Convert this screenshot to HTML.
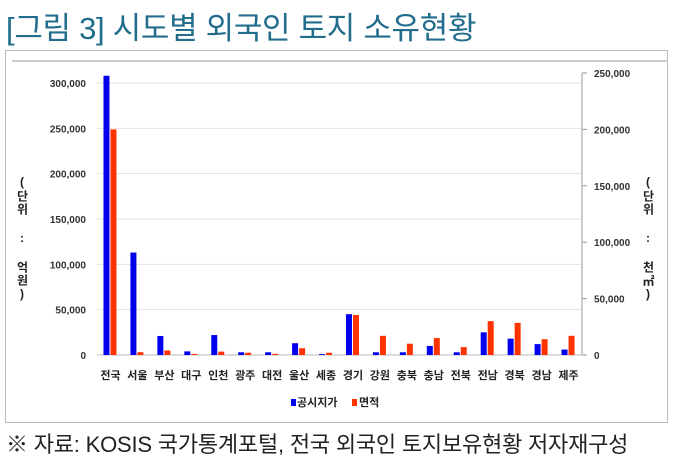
<!DOCTYPE html>
<html><head><meta charset="utf-8"><style>
body{margin:0;width:680px;height:466px;background:#fff;overflow:hidden;font-family:"Liberation Sans","Noto Sans CJK KR",sans-serif}
#title{position:absolute;left:6px;top:3px;font-size:31px;color:#236d8c;letter-spacing:-0.3px;white-space:nowrap}
#foot{position:absolute;left:6px;top:427px;font-size:22px;color:#222;white-space:nowrap;letter-spacing:-0.2px}
#box{position:absolute;left:5px;top:50px;width:663px;height:373px;border:1px solid #bbb;box-sizing:border-box}
svg{position:absolute;left:0;top:0}
.vt{position:absolute;writing-mode:vertical-rl;text-orientation:upright;font-size:12px;font-weight:bold;color:#222;letter-spacing:1px;white-space:nowrap}
</style></head><body>
<div id="title">[그림 3] 시도별 외국인 토지 소유현황</div>
<div id="box"></div>
<svg id="chart" width="680" height="466"></svg>
<div class="vt" style="left:14px;top:175px">(단위 : 억원)</div>
<div class="vt" style="left:640px;top:175px">(단위 : 천㎡)</div>
<div id="foot">※ 자료: KOSIS 국가통계포털, 전국 외국인 토지보유현황 저자재구성</div>
<script>
const categories=["전국","서울","부산","대구","인천","광주","대전","울산","세종","경기","강원","충북","충남","전북","전남","경북","경남","제주"];
const priceValues=[308000,113000,21000,4000,22000,3000,3000,13000,1000,45000,3000,3000,10000,3000,25000,18000,12000,6000];
const areaValues=[200000,2500,4000,1000,3000,2000,1000,6000,2000,35500,17000,10000,15000,7000,30000,28500,14000,17000];
const leftTicks=[0,50000,100000,150000,200000,250000,300000];
const rightTicks=[0,50000,100000,150000,200000,250000];
const svg=document.getElementById('chart');const NS='http://www.w3.org/2000/svg';
const x0=97,x1=582,yB=355;
const yL=v=>yB-v*(272/300000);
const yR=v=>yB-v*(282/250000);
const step=(x1-x0)/categories.length;
function el(t,a,txt){const e=document.createElementNS(NS,t);for(const k in a)e.setAttribute(k,a[k]);if(txt!=null)e.textContent=txt;svg.appendChild(e);return e;}
const fmt=v=>v.toLocaleString('en-US');
let e=el('line',{x1:12,x2:668,y1:61,y2:61,stroke:'#ccc','stroke-width':2});

leftTicks.forEach(t=>{
 if(t>0){const g=el('line',{x1:x0,x2:x1,y1:yL(t),y2:yL(t),stroke:'#e2e2e2'});}
 const l=el('text',{x:86,y:yL(t)+4,'text-anchor':'end','font-size':10,'font-weight':'bold',fill:'#333'},fmt(t));
 
});
rightTicks.forEach(t=>{
 const m=el('line',{x1:x1,x2:x1+5,y1:yR(t),y2:yR(t),stroke:'#999'});
 const l=el('text',{x:594,y:yR(t)+4,'font-size':10,'font-weight':'bold',fill:'#333'},fmt(t));
 
});
e=el('line',{x1:x1,x2:x1,y1:yR(250000),y2:yB,stroke:'#999'});
e=el('line',{x1:x0,x2:x1,y1:yB,y2:yB,stroke:'#bbb'});
categories.forEach((c,i)=>{
 const cx=x0+step*(i+0.5);
 const b=el('rect',{x:cx-7,y:yL(priceValues[i]),width:6,height:yB-yL(priceValues[i]),fill:'#0000ee'});
 
 const r=el('rect',{x:cx,y:yR(areaValues[i]),width:6,height:yB-yR(areaValues[i]),fill:'#ff3300'});
 
 const t=el('text',{x:cx,y:379,'text-anchor':'middle','font-size':11,'font-weight':'bold',fill:'#222'},c);
 
});
e=el('rect',{x:291,y:399,width:5,height:7,fill:'#0000ee'});
e=el('text',{x:297,y:406,'font-size':11,'font-weight':'bold',fill:'#222'},'공시지가');
e=el('rect',{x:352,y:399,width:5,height:7,fill:'#ff3300'});
e=el('text',{x:359,y:406,'font-size':11,'font-weight':'bold',fill:'#222'},'면적');
</script>
</body></html>
